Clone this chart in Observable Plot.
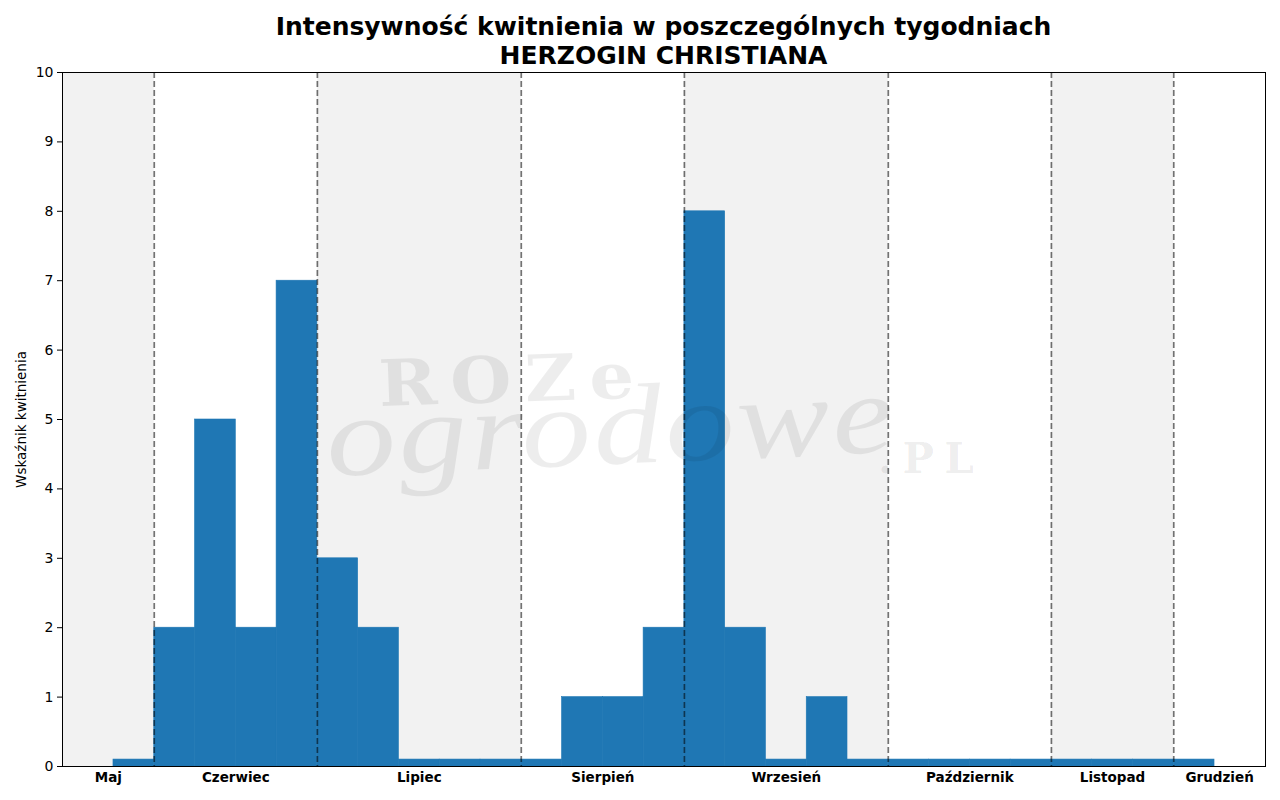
<!DOCTYPE html>
<html>
<head>
<meta charset="utf-8">
<script src="https://cdn.jsdelivr.net/npm/d3@7"></script>
<script src="https://cdn.jsdelivr.net/npm/@observablehq/plot@0.6"></script>
<style>
  html, body { margin: 0; padding: 0; background: white; }
  #root { position: relative; width: 1280px; height: 800px; overflow: hidden; font-family: "DejaVu Sans", sans-serif; }
  #title { position: absolute; left: 62px; width: 1203px; top: 12px; text-align: center; font-weight: bold; font-size: 25px; line-height: 29px; color: black; z-index: 3; }
  .wm { position: absolute; color: rgba(0,0,0,0.07); white-space: nowrap; pointer-events: none; z-index: 2; transform-origin: left bottom; }
  #wm1 { left: 380px; top: 346px; font-family: "DejaVu Serif", serif; font-weight: bold; font-size: 64px; letter-spacing: 12px; transform: scaleX(1.1) rotate(-2deg); }
  #wm2 { left: 330px; top: 372px; font-family: "Liberation Serif", serif; font-style: italic; font-size: 114px; letter-spacing: 2px; transform: scaleX(1.22) rotate(-3deg); }
  #wm3 { left: 878px; top: 434px; font-family: "DejaVu Serif", serif; font-weight: bold; font-size: 42px; letter-spacing: 10px; }
</style>
</head>
<body>
<div id="root">
  <div id="title">Intensywność kwitnienia w poszczególnych tygodniach<br>HERZOGIN CHRISTIANA</div>
  <div class="wm" id="wm1">ROZe</div>
  <div class="wm" id="wm2">ogrodowe</div>
  <div class="wm" id="wm3">.PL</div>
</div>
<script>
// Week indices and bloom intensity values
const weeks = [0,1,2,3,4,5,6,7,8,9,10,11,12,13,14,15,16,17,18,19,20,21,22,23,24,25,26];
const values = [0.1,2,5,2,7,3,2,0.1,0.1,0.1,0.1,1,1,2,8,2,0.1,1,0.1,0.1,0.1,0.1,0.1,0.1,0.1,0.1,0.1];

// Months: names and their week-boundary extents
const months = ["Maj","Czerwiec","Lipiec","Sierpień","Wrzesień","Październik","Listopad","Grudzień"];
const monthStart = [-1.25, 1, 5, 10, 14, 19, 23, 26];
const monthEnd = [1, 5, 10, 14, 19, 23, 26, 28.25];
const monthShaded = [true, false, true, false, true, false, true, false];

const yTicks = [0,1,2,3,4,5,6,7,8,9,10];
const yLabel = "Wskaźnik kwitnienia";

const bars = weeks.map((w, i) => ({x1: w, x2: w + 1, y: values[i]}));
const monthRows = months.map((m, i) => ({
  name: m, x1: monthStart[i], x2: monthEnd[i], mid: (monthStart[i] + monthEnd[i]) / 2, shaded: monthShaded[i]
}));
const boundaries = monthStart.slice(1);
const nameAt = new Map(monthRows.map(d => [d.mid, d.name]));

const chart = Plot.plot({
  width: 1280,
  height: 800,
  marginLeft: 62,
  marginRight: 15,
  marginTop: 72,
  marginBottom: 34,
  style: {fontFamily: "DejaVu Sans, sans-serif", fontSize: "13.5px", color: "black", background: "transparent", overflow: "visible"},
  x: {domain: [monthStart[0], monthEnd[monthEnd.length - 1]]},
  y: {domain: [0, 10]},
  marks: [
    Plot.rect(monthRows.filter(d => d.shaded), {x1: "x1", x2: "x2", y1: 0, y2: 10, fill: "#f2f2f2"}),
    Plot.rectY(bars, {x1: "x1", x2: "x2", y: "y", fill: "#1f77b4", stroke: "#1f77b4", strokeWidth: 0.6, inset: 0}),
    Plot.ruleX(boundaries, {stroke: "black", strokeOpacity: 0.55, strokeWidth: 1.7, strokeDasharray: "6,3"}),
    Plot.frame({stroke: "black", strokeWidth: 1}),
    Plot.axisY({ticks: yTicks, tickSize: 5, tickPadding: 4, label: null, fontSize: 14}),
    Plot.text([yLabel], {frameAnchor: "left", dx: -41, rotate: -90, fontSize: 13.5, textAnchor: "middle", fill: "black"}),
    Plot.axisX({ticks: monthRows.map(d => d.mid), tickFormat: d => nameAt.get(d), tickSize: 0, tickPadding: 6, fontWeight: "bold", label: null, fontSize: 13.5})
  ]
});
chart.style.position = "absolute";
chart.style.left = "0px";
chart.style.top = "0px";
chart.style.zIndex = 1;
document.getElementById("root").appendChild(chart);
</script>
</body>
</html>
